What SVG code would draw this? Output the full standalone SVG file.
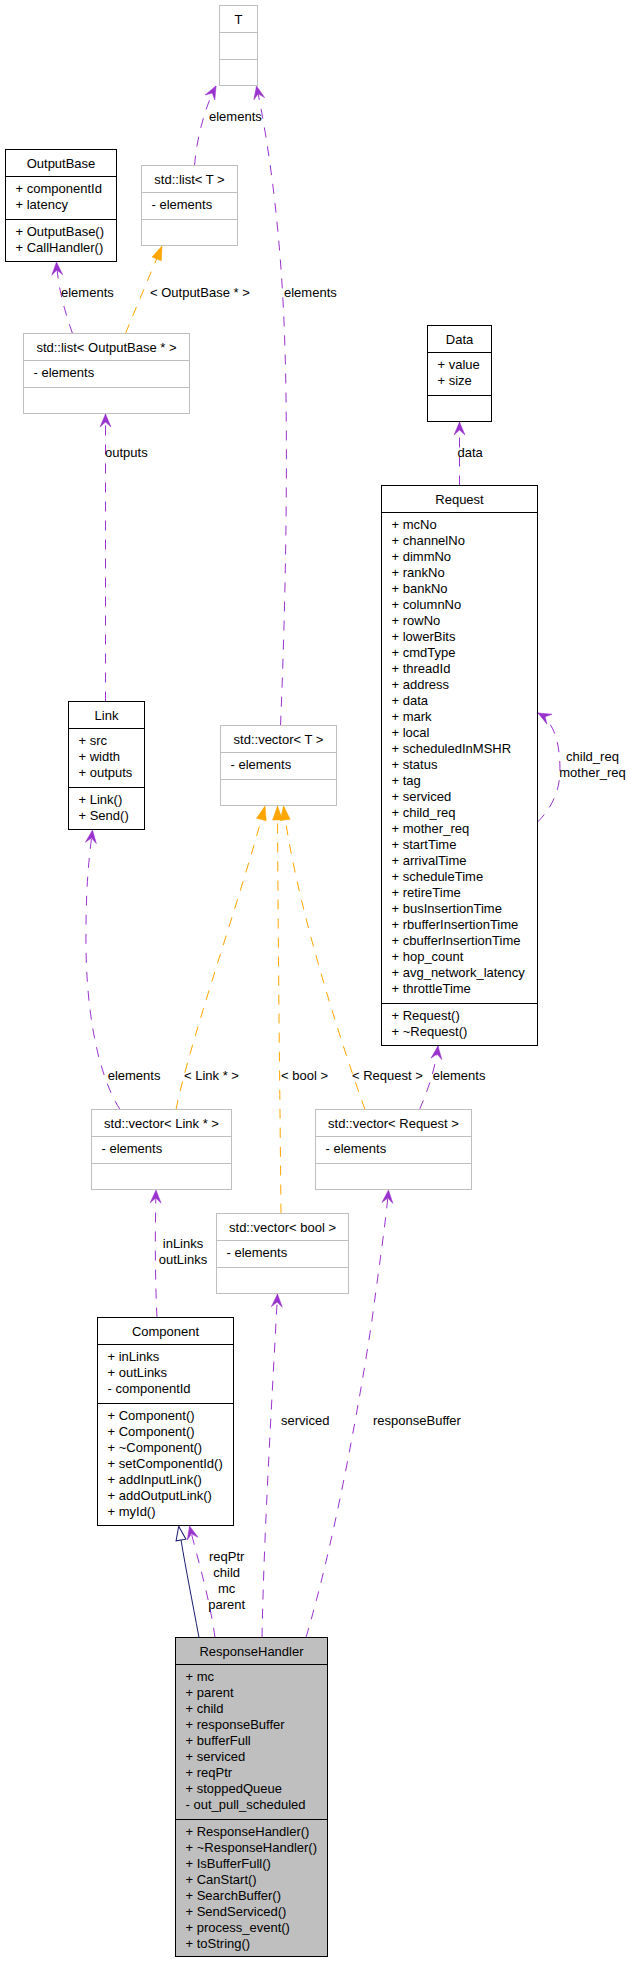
<svg xmlns="http://www.w3.org/2000/svg" width="631" height="1963" viewBox="0 0 631 1963">
<style>
text{font-family:"Liberation Sans",Arial,Helvetica,sans-serif;font-size:13px;fill:#000}
.c{text-anchor:middle}
.box{fill:#fff;stroke:#000;stroke-width:1}
.gbox{fill:#fff;stroke:#bfbfbf;stroke-width:1}
.rh{fill:#bfbfbf;stroke:#000;stroke-width:1}
.dv{stroke:#000;stroke-width:1}
.gdv{stroke:#bfbfbf;stroke-width:1}
.use{fill:none;stroke:#9a32cd;stroke-width:1;stroke-dasharray:10,9;marker-end:url(#vee)}
.tpl{fill:none;stroke:#ffa500;stroke-width:1;stroke-dasharray:10,9;marker-end:url(#tri)}
.inh{fill:none;stroke:#191970;stroke-width:1;marker-end:url(#hollow)}
</style>
<defs>
<marker id="vee" markerUnits="userSpaceOnUse" orient="auto" overflow="visible" markerWidth="1" markerHeight="1" refX="0" refY="0"><path d="M0,0 L-13,-5.5 L-8,0 L-13,5.5 Z" fill="#9a32cd" stroke="#9a32cd" stroke-width="0.5"/></marker>
<marker id="tri" markerUnits="userSpaceOnUse" orient="auto" overflow="visible" markerWidth="1" markerHeight="1" refX="0" refY="0"><path d="M0,0 L-14,-5 L-14,5 Z" fill="#ffa500" stroke="#ffa500" stroke-width="0.5"/></marker>
<marker id="hollow" markerUnits="userSpaceOnUse" orient="auto" overflow="visible" markerWidth="1" markerHeight="1" refX="0" refY="0"><path d="M0,-5 L14,0 L0,5 Z" fill="#fff" stroke="#191970" stroke-width="1"/></marker>
</defs>
<rect width="631" height="1963" fill="#fff"/>

<g id="edges">
<path class="use" d="M194.5,165.5 C197,135 206,105 216,86"/>
<text x="209" y="121">elements</text>
<path class="use" d="M280.5,725.5 C286,600 288,450 285,350 C282,240 270,150 256.5,86"/>
<text x="284" y="297">elements</text>
<path class="use" d="M72.5,333.5 C66,315 58,290 56.5,262"/>
<text x="61" y="297">elements</text>
<path class="tpl" d="M125.5,333.5 C135,310 150,275 162,246"/>
<text x="150" y="297">&lt; OutputBase * &gt;</text>
<path class="use" d="M105.5,701.5 L105.5,414"/>
<text x="105" y="457">outputs</text>
<path class="use" d="M459.5,485.5 L459.5,422"/>
<text x="457.5" y="457">data</text>
<path class="use" d="M537.5,822 C552,808 560,790 560,770 C560,745 555,722 538,713"/>
<text class="c" x="592.5" y="761">child_req</text>
<text class="c" x="592.5" y="777">mother_req</text>
<path class="tpl" d="M176,1109.5 C190,1040 240,900 265,806"/>
<text x="184" y="1080">&lt; Link * &gt;</text>
<path class="tpl" d="M281,1213.5 C280,1100 278,950 277.5,806"/>
<text x="281" y="1080">&lt; bool &gt;</text>
<path class="tpl" d="M365,1109.5 C340,1040 295,900 283.5,806"/>
<text x="352" y="1080">&lt; Request &gt;</text>
<path class="use" d="M120,1109.5 C95,1070 85,1000 86,930 C86,880 90,850 92.5,830"/>
<text x="107.7" y="1080">elements</text>
<path class="use" d="M419.5,1109.5 C428,1090 435,1070 438,1046"/>
<text x="432.7" y="1080">elements</text>
<path class="use" d="M157,1317.5 C155,1280 155,1230 156,1190"/>
<text class="c" x="183" y="1248">inLinks</text>
<text class="c" x="183" y="1264">outLinks</text>
<path class="use" d="M262,1637.5 C264,1530 272,1400 277.5,1294"/>
<text x="281" y="1425">serviced</text>
<path class="use" d="M306,1637.5 C335,1540 360,1400 372,1320 C380,1260 386,1220 388.5,1190"/>
<text x="373" y="1425">responseBuffer</text>
<path class="inh" d="M199,1637.5 C192,1600 186,1570 181,1540"/>
<path class="use" d="M215,1637.5 C210,1600 198,1560 189.5,1526"/>
<text class="c" x="226.7" y="1561">reqPtr</text>
<text class="c" x="226.7" y="1577">child</text>
<text class="c" x="226.7" y="1593">mc</text>
<text class="c" x="226.7" y="1609">parent</text>
</g>

<g id="node-T">
<rect class="gbox" x="219.5" y="5.5" width="38" height="80"/>
<line class="gdv" x1="219.5" y1="32.5" x2="257.5" y2="32.5"/>
<line class="gdv" x1="219.5" y1="59.5" x2="257.5" y2="59.5"/>
<text class="c" x="238.5" y="24">T</text>
</g>

<g id="node-OutputBase">
<rect class="box" x="5.5" y="149.5" width="111" height="112"/>
<line class="dv" x1="5.5" y1="176.5" x2="116.5" y2="176.5"/>
<line class="dv" x1="5.5" y1="219.5" x2="116.5" y2="219.5"/>
<text class="c" x="61" y="168">OutputBase</text>
<text x="15.5" y="193">+ componentId</text>
<text x="15.5" y="209">+ latency</text>
<text x="15.5" y="236">+ OutputBase()</text>
<text x="15.5" y="252">+ CallHandler()</text>
</g>

<g id="node-listT">
<rect class="gbox" x="141.5" y="165.5" width="96" height="80"/>
<line class="gdv" x1="141.5" y1="192.5" x2="237.5" y2="192.5"/>
<line class="gdv" x1="141.5" y1="219.5" x2="237.5" y2="219.5"/>
<text class="c" x="189.5" y="183.5">std::list&lt; T &gt;</text>
<text x="151.5" y="209">- elements</text>
</g>

<g id="node-listOutputBase">
<rect class="gbox" x="23.5" y="333.5" width="166" height="80"/>
<line class="gdv" x1="23.5" y1="360.5" x2="189.5" y2="360.5"/>
<line class="gdv" x1="23.5" y1="387.5" x2="189.5" y2="387.5"/>
<text class="c" x="106.5" y="351.5">std::list&lt; OutputBase * &gt;</text>
<text x="33.5" y="377">- elements</text>
</g>

<g id="node-Data">
<rect class="box" x="427.5" y="325.5" width="64" height="96"/>
<line class="dv" x1="427.5" y1="352.5" x2="491.5" y2="352.5"/>
<line class="dv" x1="427.5" y1="395.5" x2="491.5" y2="395.5"/>
<text class="c" x="459.5" y="343.5">Data</text>
<text x="437.5" y="369">+ value</text>
<text x="437.5" y="385">+ size</text>
</g>

<g id="node-Request">
<rect class="box" x="381.5" y="485.5" width="156" height="560"/>
<line class="dv" x1="381.5" y1="512.5" x2="537.5" y2="512.5"/>
<line class="dv" x1="381.5" y1="1003.5" x2="537.5" y2="1003.5"/>
<text class="c" x="459.5" y="503.5">Request</text>
<text x="391.5" y="529">+ mcNo</text>
<text x="391.5" y="545">+ channelNo</text>
<text x="391.5" y="561">+ dimmNo</text>
<text x="391.5" y="577">+ rankNo</text>
<text x="391.5" y="593">+ bankNo</text>
<text x="391.5" y="609">+ columnNo</text>
<text x="391.5" y="625">+ rowNo</text>
<text x="391.5" y="641">+ lowerBits</text>
<text x="391.5" y="657">+ cmdType</text>
<text x="391.5" y="673">+ threadId</text>
<text x="391.5" y="689">+ address</text>
<text x="391.5" y="705">+ data</text>
<text x="391.5" y="721">+ mark</text>
<text x="391.5" y="737">+ local</text>
<text x="391.5" y="753">+ scheduledInMSHR</text>
<text x="391.5" y="769">+ status</text>
<text x="391.5" y="785">+ tag</text>
<text x="391.5" y="801">+ serviced</text>
<text x="391.5" y="817">+ child_req</text>
<text x="391.5" y="833">+ mother_req</text>
<text x="391.5" y="849">+ startTime</text>
<text x="391.5" y="865">+ arrivalTime</text>
<text x="391.5" y="881">+ scheduleTime</text>
<text x="391.5" y="897">+ retireTime</text>
<text x="391.5" y="913">+ busInsertionTime</text>
<text x="391.5" y="929">+ rbufferInsertionTime</text>
<text x="391.5" y="945">+ cbufferInsertionTime</text>
<text x="391.5" y="961">+ hop_count</text>
<text x="391.5" y="977">+ avg_network_latency</text>
<text x="391.5" y="993">+ throttleTime</text>
<text x="391.5" y="1020">+ Request()</text>
<text x="391.5" y="1036">+ ~Request()</text>
</g>

<g id="node-Link">
<rect class="box" x="68.5" y="701.5" width="76" height="128"/>
<line class="dv" x1="68.5" y1="728.5" x2="144.5" y2="728.5"/>
<line class="dv" x1="68.5" y1="787.5" x2="144.5" y2="787.5"/>
<text class="c" x="106.5" y="719.5">Link</text>
<text x="78.5" y="745">+ src</text>
<text x="78.5" y="761">+ width</text>
<text x="78.5" y="777">+ outputs</text>
<text x="78.5" y="804">+ Link()</text>
<text x="78.5" y="820">+ Send()</text>
</g>

<g id="node-vectorT">
<rect class="gbox" x="220.5" y="725.5" width="116" height="80"/>
<line class="gdv" x1="220.5" y1="752.5" x2="336.5" y2="752.5"/>
<line class="gdv" x1="220.5" y1="779.5" x2="336.5" y2="779.5"/>
<text class="c" x="278.5" y="743.5">std::vector&lt; T &gt;</text>
<text x="230.5" y="769">- elements</text>
</g>

<g id="node-vectorLink">
<rect class="gbox" x="91.5" y="1109.5" width="140" height="80"/>
<line class="gdv" x1="91.5" y1="1136.5" x2="231.5" y2="1136.5"/>
<line class="gdv" x1="91.5" y1="1163.5" x2="231.5" y2="1163.5"/>
<text class="c" x="161.5" y="1127.5">std::vector&lt; Link * &gt;</text>
<text x="101.5" y="1153">- elements</text>
</g>

<g id="node-vectorRequest">
<rect class="gbox" x="315.5" y="1109.5" width="156" height="80"/>
<line class="gdv" x1="315.5" y1="1136.5" x2="471.5" y2="1136.5"/>
<line class="gdv" x1="315.5" y1="1163.5" x2="471.5" y2="1163.5"/>
<text class="c" x="393.5" y="1127.5">std::vector&lt; Request &gt;</text>
<text x="325.5" y="1153">- elements</text>
</g>

<g id="node-vectorBool">
<rect class="gbox" x="216.5" y="1213.5" width="132" height="80"/>
<line class="gdv" x1="216.5" y1="1240.5" x2="348.5" y2="1240.5"/>
<line class="gdv" x1="216.5" y1="1267.5" x2="348.5" y2="1267.5"/>
<text class="c" x="282.5" y="1231.5">std::vector&lt; bool &gt;</text>
<text x="226.5" y="1257">- elements</text>
</g>

<g id="node-Component">
<rect class="box" x="97.5" y="1317.5" width="136" height="208"/>
<line class="dv" x1="97.5" y1="1344.5" x2="233.5" y2="1344.5"/>
<line class="dv" x1="97.5" y1="1403.5" x2="233.5" y2="1403.5"/>
<text class="c" x="165.5" y="1335.5">Component</text>
<text x="107.5" y="1361">+ inLinks</text>
<text x="107.5" y="1377">+ outLinks</text>
<text x="107.5" y="1393">- componentId</text>
<text x="107.5" y="1420">+ Component()</text>
<text x="107.5" y="1436">+ Component()</text>
<text x="107.5" y="1452">+ ~Component()</text>
<text x="107.5" y="1468">+ setComponentId()</text>
<text x="107.5" y="1484">+ addInputLink()</text>
<text x="107.5" y="1500">+ addOutputLink()</text>
<text x="107.5" y="1516">+ myId()</text>
</g>

<g id="node-ResponseHandler">
<rect class="rh" x="175.5" y="1637.5" width="152" height="319"/>
<line class="dv" x1="175.5" y1="1664.5" x2="327.5" y2="1664.5"/>
<line class="dv" x1="175.5" y1="1819.5" x2="327.5" y2="1819.5"/>
<text class="c" x="251.5" y="1655.5">ResponseHandler</text>
<text x="185.5" y="1681">+ mc</text>
<text x="185.5" y="1697">+ parent</text>
<text x="185.5" y="1713">+ child</text>
<text x="185.5" y="1729">+ responseBuffer</text>
<text x="185.5" y="1745">+ bufferFull</text>
<text x="185.5" y="1761">+ serviced</text>
<text x="185.5" y="1777">+ reqPtr</text>
<text x="185.5" y="1793">+ stoppedQueue</text>
<text x="185.5" y="1809">- out_pull_scheduled</text>
<text x="185.5" y="1836">+ ResponseHandler()</text>
<text x="185.5" y="1852">+ ~ResponseHandler()</text>
<text x="185.5" y="1868">+ IsBufferFull()</text>
<text x="185.5" y="1884">+ CanStart()</text>
<text x="185.5" y="1900">+ SearchBuffer()</text>
<text x="185.5" y="1916">+ SendServiced()</text>
<text x="185.5" y="1932">+ process_event()</text>
<text x="185.5" y="1948">+ toString()</text>
</g>
</svg>
